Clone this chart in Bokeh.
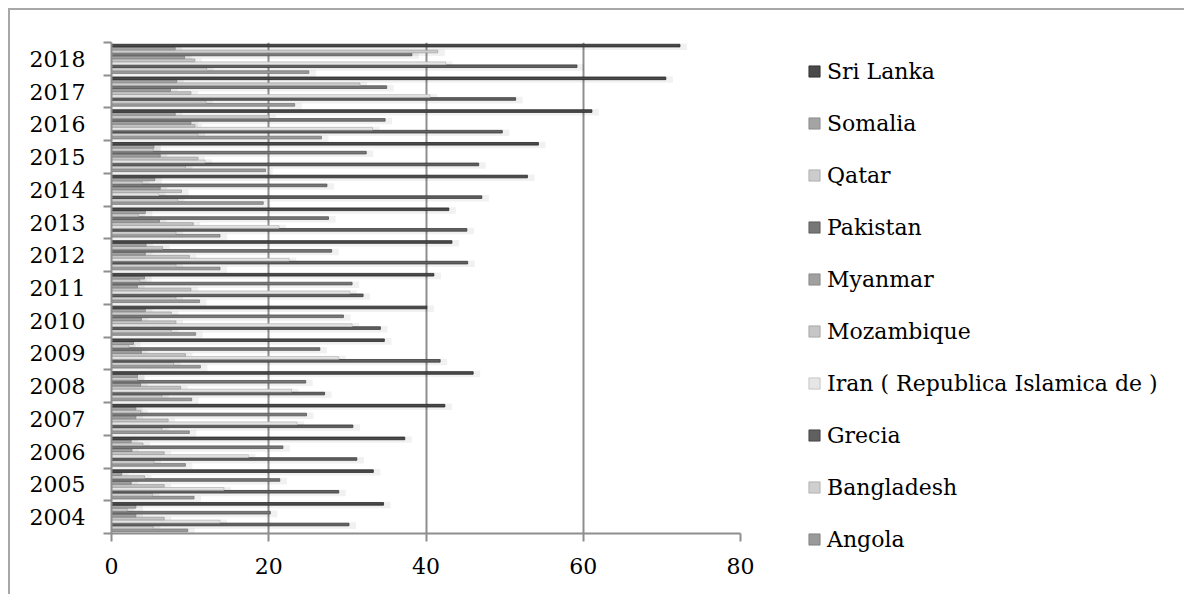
from bokeh.plotting import figure
from bokeh.layouts import row
from bokeh.models import FixedTicker, LegendItem, Legend
from bokeh.embed import file_html
from bokeh.resources import INLINE

years = ["2004", "2005", "2006", "2007", "2008", "2009", "2010", "2011",
         "2012", "2013", "2014", "2015", "2016", "2017", "2018"]

countries = ["Angola", "Bangladesh", "Grecia", "Iran ( Republica Islamica de )",
             "Mozambique", "Myanmar", "Pakistan", "Qatar", "Somalia", "Sri Lanka"]

angola     = [9.7, 10.5, 9.4, 9.9, 10.2, 11.3, 10.7, 11.2, 13.8, 13.8, 19.3, 19.6, 26.7, 23.3, 25.1]
bangladesh = [5.3, 5.2, 5.4, 6.4, 6.4, 7.9, 7.6, 8.2, 8.2, 8.2, 8.4, 9.4, 11.0, 12.0, 12.1]
grecia     = [30.2, 28.9, 31.2, 30.7, 27.1, 41.8, 34.2, 32.0, 45.3, 45.2, 47.1, 46.7, 49.7, 51.4, 59.2]
iran       = [13.8, 14.3, 17.4, 23.6, 22.9, 28.9, 30.6, 30.3, 22.6, 21.3, 6.0, 11.9, 33.2, 40.5, 42.5]
mozambique = [6.7, 6.7, 6.7, 7.2, 8.8, 9.4, 8.2, 10.1, 9.9, 10.4, 8.9, 11.0, 10.6, 10.1, 10.6]
myanmar    = [3.1, 2.5, 2.6, 3.1, 3.7, 3.8, 3.8, 3.3, 4.3, 6.1, 6.2, 6.2, 10.1, 7.5, 9.3]
pakistan   = [20.2, 21.4, 21.8, 24.8, 24.7, 26.5, 29.5, 30.6, 28.0, 27.6, 27.4, 32.4, 34.8, 35.0, 38.2]
qatar      = [2.0, 4.2, 4.0, 3.7, 3.3, 2.2, 7.6, 3.6, 6.5, 3.4, 3.9, 5.3, 20.0, 31.6, 41.5]
somalia    = [3.1, 1.3, 2.5, 3.1, 3.3, 2.8, 4.3, 4.2, 4.4, 4.3, 5.5, 5.4, 8.1, 8.3, 8.1]
sri_lanka  = [34.6, 33.3, 37.3, 42.4, 46.0, 34.7, 40.1, 41.0, 43.3, 42.9, 52.9, 54.3, 61.1, 70.5, 72.3]

series = [angola, bangladesh, grecia, iran, mozambique, myanmar, pakistan, qatar, somalia, sri_lanka]

fills = ["#9a9a9a", "#cfcfcf", "#606060", "#e6e6e6", "#c6c6c6",
         "#a0a0a0", "#777777", "#cccccc", "#a4a4a4", "#4a4a4a"]
lines = ["#7a7a7a", "#a8a8a8", "#3c3c3c", "#bdbdbd", "#a0a0a0",
         "#808080", "#555555", "#a6a6a6", "#858585", "#2a2a2a"]

FONT = "DejaVu Serif"
FSIZE = "22px"
GRID = "#8e8e8e"

p = figure(width=750, height=584, x_range=(0, 80), y_range=(0, 15),
           output_backend="svg", toolbar_location=None,
           min_border_left=101, min_border_right=20,
           min_border_top=32, min_border_bottom=61)
p.outline_line_color = None
p.background_fill_color = "white"
p.border_fill_color = "white"

n = len(series)
slot = 0.09
centers = [i + 0.5 for i in range(len(years))]

# soft shadows
for j, vals in enumerate(series):
    ys = [c + (j - (n - 1) / 2) * slot - 0.035 for c in centers]
    rs = [v + 0.9 for v in vals]
    p.hbar(y=ys, left=0, right=rs, height=0.2, fill_color="black",
           fill_alpha=0.055, line_color=None)

for j, vals in enumerate(series):
    ys = [c + (j - (n - 1) / 2) * slot for c in centers]
    p.hbar(y=ys, left=0, right=vals, height=0.08,
           fill_color=fills[j], line_color=lines[j], line_width=0.8)

# axes
p.xaxis.ticker = FixedTicker(ticks=[0, 20, 40, 60, 80])
p.xaxis.major_tick_in = 0
p.xaxis.major_tick_out = 8
p.xaxis.minor_tick_line_color = None
p.xaxis.axis_line_color = GRID
p.xaxis.axis_line_width = 2
p.xaxis.major_tick_line_color = GRID
p.xaxis.major_tick_line_width = 2
p.xaxis.major_label_text_font = FONT
p.xaxis.major_label_text_font_size = FSIZE
p.xaxis.major_label_text_color = "black"
p.xaxis.major_label_standoff = 16

p.yaxis.ticker = FixedTicker(ticks=centers, minor_ticks=list(range(len(years) + 1)))
p.yaxis.major_label_overrides = {c: y for c, y in zip(centers, years)}
p.yaxis.major_tick_line_color = None
p.yaxis.major_tick_in = 0
p.yaxis.major_tick_out = 0
p.yaxis.minor_tick_in = 0
p.yaxis.minor_tick_out = 8
p.yaxis.minor_tick_line_color = GRID
p.yaxis.minor_tick_line_width = 2
p.yaxis.axis_line_color = GRID
p.yaxis.axis_line_width = 2
p.yaxis.major_label_text_font = FONT
p.yaxis.major_label_text_font_size = FSIZE
p.yaxis.major_label_text_color = "black"
p.yaxis.major_label_standoff = 18

p.xgrid.grid_line_color = GRID
p.xgrid.grid_line_width = 2
p.ygrid.grid_line_color = None

# legend panel (proxy glyphs with no drawable data)
q = figure(width=424, height=584, x_range=(0, 1), y_range=(0, 1),
           output_backend="svg", toolbar_location=None,
           x_axis_location=None, y_axis_location=None,
           min_border_left=0, min_border_right=0, min_border_top=0, min_border_bottom=0)
q.outline_line_color = None
q.background_fill_color = "white"
q.border_fill_color = "white"
q.xgrid.visible = False
q.ygrid.visible = False

unaligned = "frame_align" in q.properties()
if unaligned:
    p.frame_align = False
    q.frame_align = False

nan = float("nan")
legend_renderers = []
for j in range(n):
    r = q.hbar(y=[nan], left=[nan], right=[nan], height=0.08,
               fill_color=fills[j], line_color=lines[j], line_width=0.8)
    legend_renderers.append(r)

items = [LegendItem(label=countries[j], renderers=[legend_renderers[j]]) for j in reversed(range(n))]
legend = Legend(items=items, location=(47, 41) if unaligned else (47, -20),
                orientation="vertical",
                glyph_width=14, glyph_height=14, label_height=28,
                spacing=24, padding=0, margin=0, label_standoff=6,
                border_line_color=None, background_fill_alpha=0,
                label_text_font=FONT, label_text_font_size=FSIZE,
                label_text_color="black")
q.add_layout(legend, "center")

layout = row(p, q)
layout.styles = {"margin-left": "8px", "margin-top": "8px",
                 "border-top": "2px solid #a8a8a8", "border-left": "2px solid #a8a8a8"}

open("out.html", "w").write(file_html(layout, INLINE))
